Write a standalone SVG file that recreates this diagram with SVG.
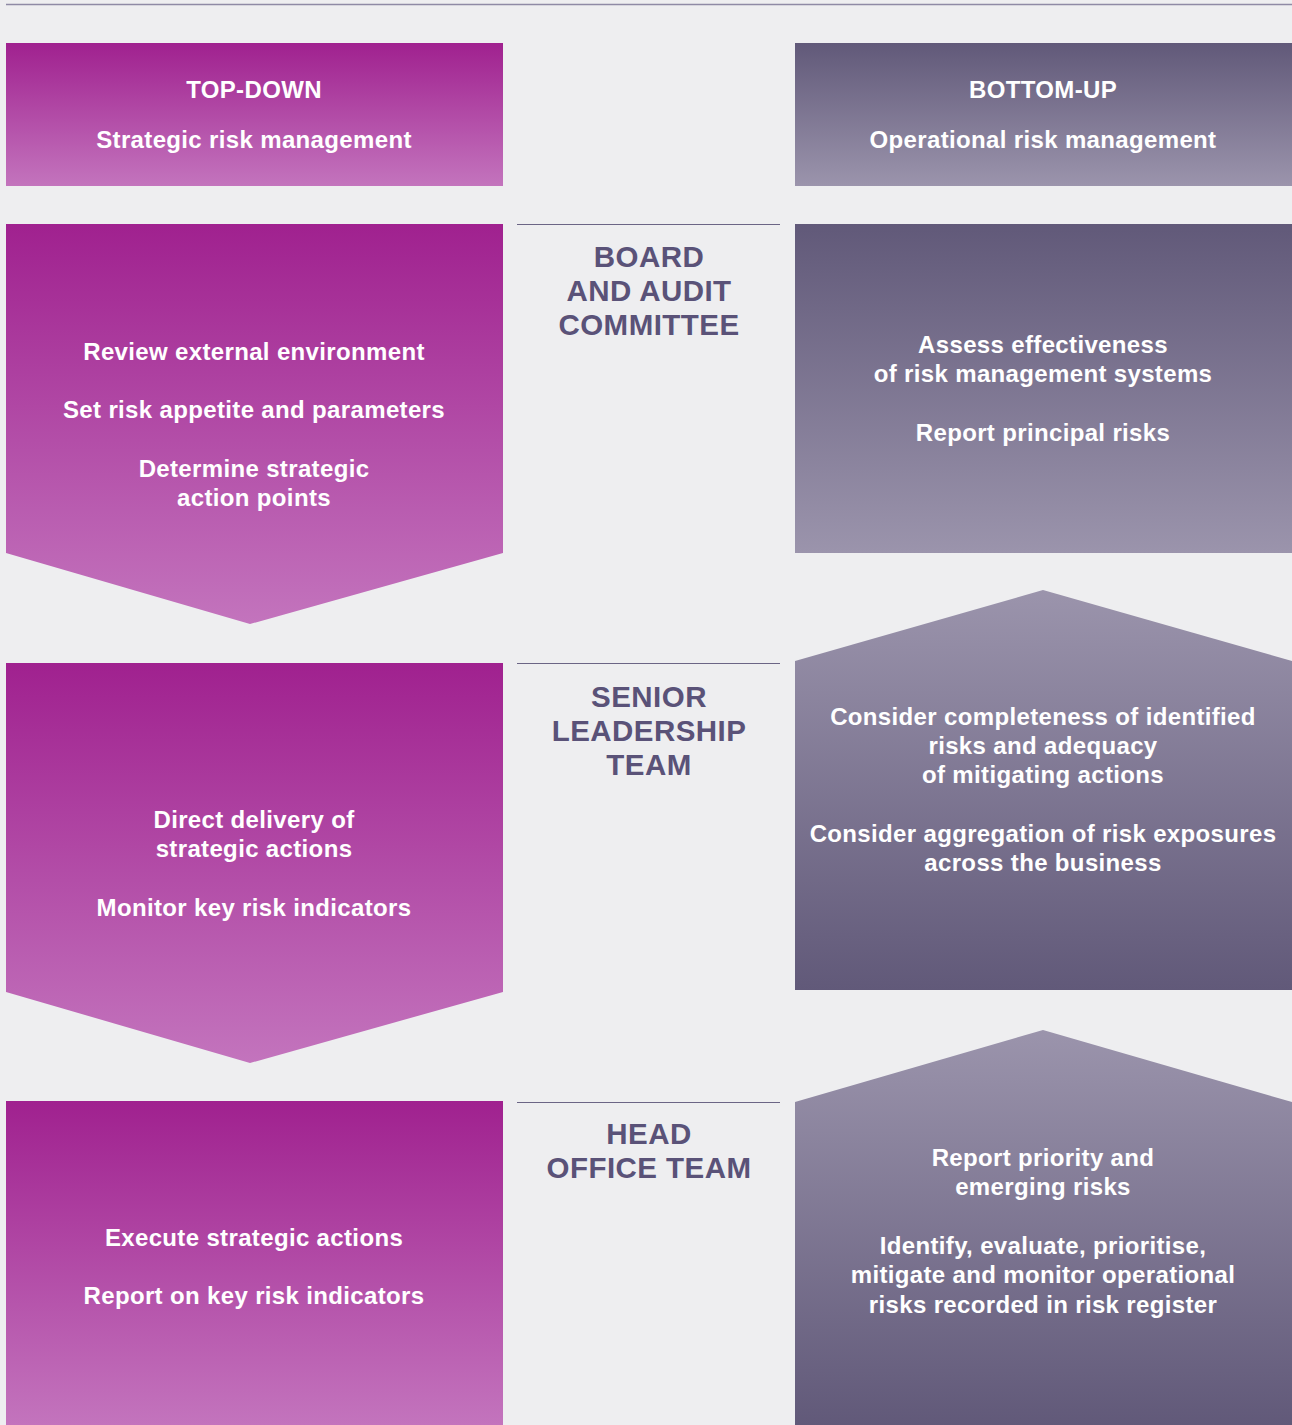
<svg xmlns="http://www.w3.org/2000/svg" width="1292" height="1425" viewBox="0 0 1292 1425">
  <defs>
    <linearGradient id="gMag" x1="0" y1="0" x2="0" y2="1">
      <stop offset="0" stop-color="#a0218f"/>
      <stop offset="1" stop-color="#c374bd"/>
    </linearGradient>
    <linearGradient id="gPurDown" x1="0" y1="0" x2="0" y2="1">
      <stop offset="0" stop-color="#615979"/>
      <stop offset="1" stop-color="#9b94ac"/>
    </linearGradient>
    <linearGradient id="gPurUp" x1="0" y1="0" x2="0" y2="1">
      <stop offset="0" stop-color="#9b94ac"/>
      <stop offset="1" stop-color="#615979"/>
    </linearGradient>
    <style>
      .t { font-family: "Liberation Sans", Arial, Helvetica, sans-serif; font-weight: bold; fill: #ffffff; font-size: 24px; text-anchor: middle; letter-spacing: 0.35px; }
      .m { font-family: "Liberation Sans", Arial, Helvetica, sans-serif; font-weight: bold; fill: #5a5278; font-size: 29.5px; text-anchor: middle; letter-spacing: 0.45px; }
      .rule { stroke: #6b6585; stroke-width: 1.2; }
    </style>
  </defs>
  <rect x="0" y="0" width="1292" height="1425" fill="#eeeef0"/>
  <line x1="6" y1="4.5" x2="1292" y2="4.5" stroke="#8f8aa5" stroke-width="1.5"/>

  <g id="connectors">
    <line class="rule" x1="517" y1="224.5" x2="780" y2="224.5"/>
    <line class="rule" x1="517" y1="663.5" x2="780" y2="663.5"/>
    <line class="rule" x1="517" y1="1102.5" x2="780" y2="1102.5"/>
  </g>

  <g id="header-top-down">
    <rect x="6" y="43" width="497" height="143" fill="url(#gMag)"/>
    <text class="t" x="254" y="97.5">TOP-DOWN</text>
    <text class="t" x="254" y="148">Strategic risk management</text>
  </g>
  <g id="header-bottom-up">
    <rect x="795" y="43" width="497" height="143" fill="url(#gPurDown)"/>
    <text class="t" x="1043" y="97.5">BOTTOM-UP</text>
    <text class="t" x="1043" y="148">Operational risk management</text>
  </g>

  <g id="td-board">
    <polygon points="6,224 503,224 503,553 250,624 6,553" fill="url(#gMag)"/>
    <text class="t" x="254" y="360">Review external environment</text>
    <text class="t" x="254" y="418">Set risk appetite and parameters</text>
    <text class="t" x="254" y="477">Determine strategic</text>
    <text class="t" x="254" y="506">action points</text>
  </g>
  <g id="board">
    <text class="m" x="649" y="266.5">BOARD</text>
    <text class="m" x="649" y="300.5">AND AUDIT</text>
    <text class="m" x="649" y="335">COMMITTEE</text>
  </g>
  <g id="bu-board">
    <rect x="795" y="224" width="497" height="329" fill="url(#gPurDown)"/>
    <text class="t" x="1043" y="353">Assess effectiveness</text>
    <text class="t" x="1043" y="382">of risk management systems</text>
    <text class="t" x="1043" y="441">Report principal risks</text>
  </g>

  <g id="td-senior">
    <polygon points="6,663 503,663 503,992 250,1063 6,992" fill="url(#gMag)"/>
    <text class="t" x="254" y="828">Direct delivery of</text>
    <text class="t" x="254" y="857">strategic actions</text>
    <text class="t" x="254" y="916">Monitor key risk indicators</text>
  </g>
  <g id="senior">
    <text class="m" x="649" y="706.5">SENIOR</text>
    <text class="m" x="649" y="740.5">LEADERSHIP</text>
    <text class="m" x="649" y="775">TEAM</text>
  </g>
  <g id="bu-senior">
    <polygon points="795,661 1043,590 1292,661 1292,990 795,990" fill="url(#gPurUp)"/>
    <text class="t" x="1043" y="725">Consider completeness of identified</text>
    <text class="t" x="1043" y="754">risks and adequacy</text>
    <text class="t" x="1043" y="783">of mitigating actions</text>
    <text class="t" x="1043" y="842">Consider aggregation of risk exposures</text>
    <text class="t" x="1043" y="871">across the business</text>
  </g>

  <g id="td-head">
    <rect x="6" y="1101" width="497" height="324" fill="url(#gMag)"/>
    <text class="t" x="254" y="1246">Execute strategic actions</text>
    <text class="t" x="254" y="1304">Report on key risk indicators</text>
  </g>
  <g id="head">
    <text class="m" x="649" y="1143.5">HEAD</text>
    <text class="m" x="649" y="1178">OFFICE TEAM</text>
  </g>
  <g id="bu-head">
    <polygon points="795,1102 1043,1030 1292,1102 1292,1425 795,1425" fill="url(#gPurUp)"/>
    <text class="t" x="1043" y="1166">Report priority and</text>
    <text class="t" x="1043" y="1195">emerging risks</text>
    <text class="t" x="1043" y="1254">Identify, evaluate, prioritise,</text>
    <text class="t" x="1043" y="1283">mitigate and monitor operational</text>
    <text class="t" x="1043" y="1313">risks recorded in risk register</text>
  </g>
</svg>
